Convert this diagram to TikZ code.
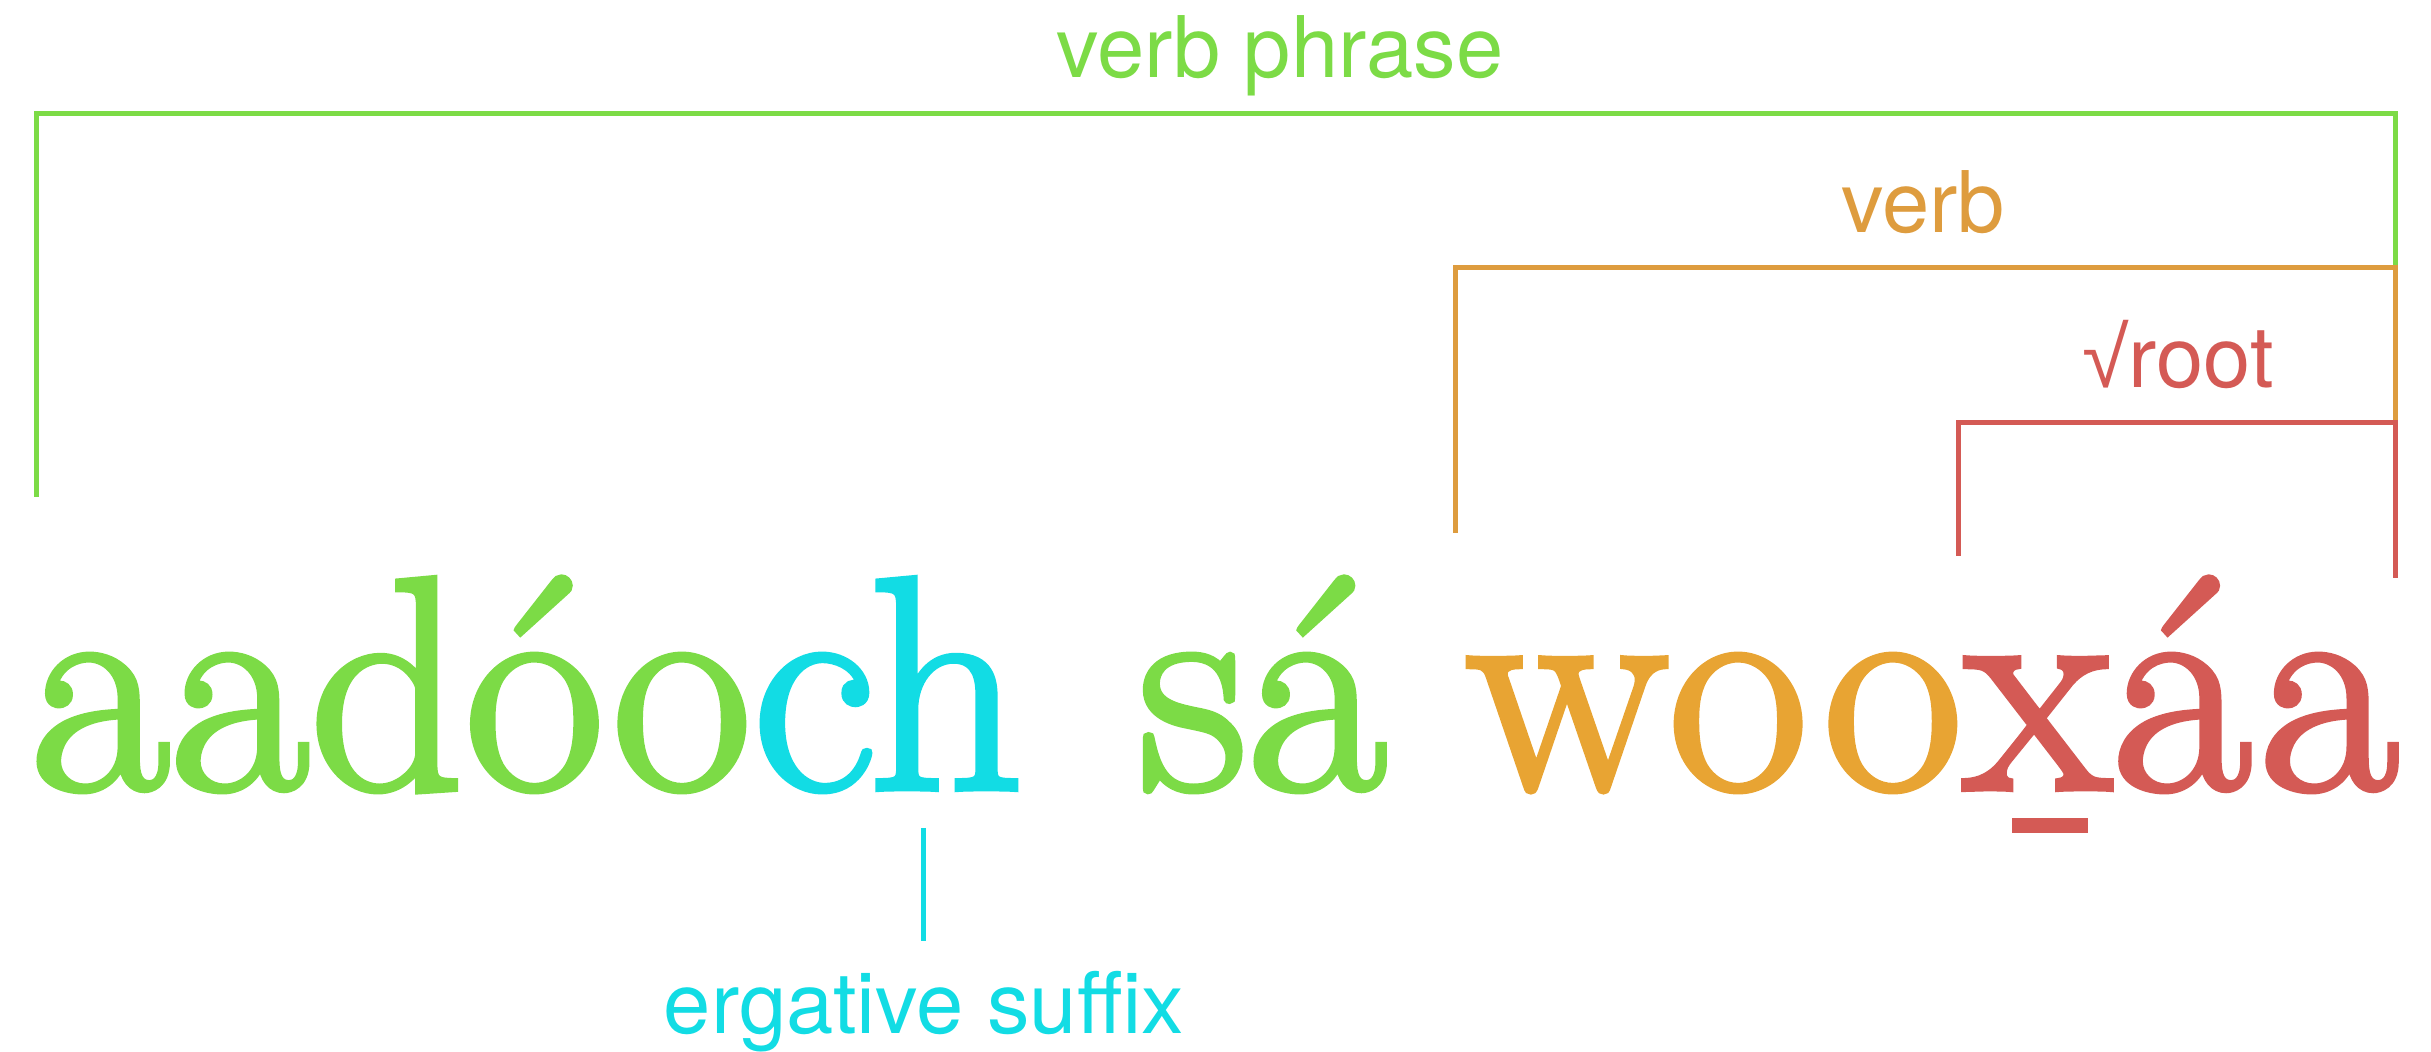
\documentclass[tikz,border=0pt]{standalone}
\usepackage{fontspec}
\usepackage{graphicx}
\newfontfamily\wordfont{Latin Modern Roman}[FakeBold=2]
\newfontfamily\labelfont{TeX Gyre Heros}
\newfontfamily\symfont{Liberation Sans}
\usetikzlibrary{calc}
\definecolor{vpgreen}{RGB}{124,219,70}
\definecolor{ergcyan}{RGB}{18,220,228}
\definecolor{wordorange}{RGB}{232,164,51}
\definecolor{verborange}{RGB}{222,156,62}
\definecolor{rootred}{RGB}{212,90,85}
\begin{document}
\begin{tikzpicture}[x=0.5pt,y=-0.5pt,
  bracketline/.style={line width=2.5pt, line join=miter},
  lbl/.style={font=\labelfont\fontsize{42.5}{50}\selectfont, inner sep=0pt, anchor=base},
  word/.style={font=\wordfont\fontsize{152}{180}\selectfont, inner sep=0pt, anchor=base west},
  wideword/.style={word, font=\wordfont\fontsize{152}{180}\selectfont\addfontfeatures{LetterSpace=2.5}}]
\useasboundingbox (0,0) rectangle (2431,1052);

% labels
\node[lbl, text=vpgreen] (vp) at (1280,78) {verb phrase};
\node[lbl, text=verborange] (vb) at (1923,233) {verb};
\node[lbl, text=rootred] (rt) at (2178,388) {{\symfont √}root};
\node[lbl, text=ergcyan] (erg) at (924,1033) {ergative suffix};

% brackets
\coordinate (vpL) at (36,497);
\coordinate (vpTL) at (36,114);
\coordinate (vpTR) at (2395,114);
\coordinate (vbL) at (1455,533);
\coordinate (vbTL) at (1455,268);
\coordinate (vbTR) at (2395,268);
\coordinate (rtL) at (1958,556);
\coordinate (rtTL) at (1958,423);
\coordinate (rtTR) at (2395,423);
\coordinate (rtR) at (2395,578);
\draw[bracketline, vpgreen] (vpL) -- (vpTL) -- (vpTR) -- (vbTR);
\draw[bracketline, verborange] (vbL) -- (vbTL) -- (vbTR) -- (rtTR);
\draw[bracketline, rootred] (rtL) -- (rtTL) -- (rtTR) -- (rtR);

% main word
\node[word, text=vpgreen] (g1) at (30,789) {aadóo};
\node[word, text=ergcyan] (c1) at (g1.base east) {ch};
\node[word, text=vpgreen] (g2) at ($(c1.base east)+(114,0)$) {sá};
\node[wideword, text=wordorange] (o1) at ($(g2.base east)+(78,0)$) {woo};
\node[wideword, text=rootred] (r1) at (o1.base east) {x};
\node[wideword, text=rootred] (r2) at (r1.base east) {áa};
\fill[rootred] ($(r1.base)+(-26,29)$) rectangle ($(r1.base)+(50,44)$);

% ergative connector
\coordinate (ergA) at (923,828);
\coordinate (ergB) at (923,941);
\draw[line width=2.5pt, ergcyan] (ergA) -- (ergB);
\end{tikzpicture}
\end{document}
